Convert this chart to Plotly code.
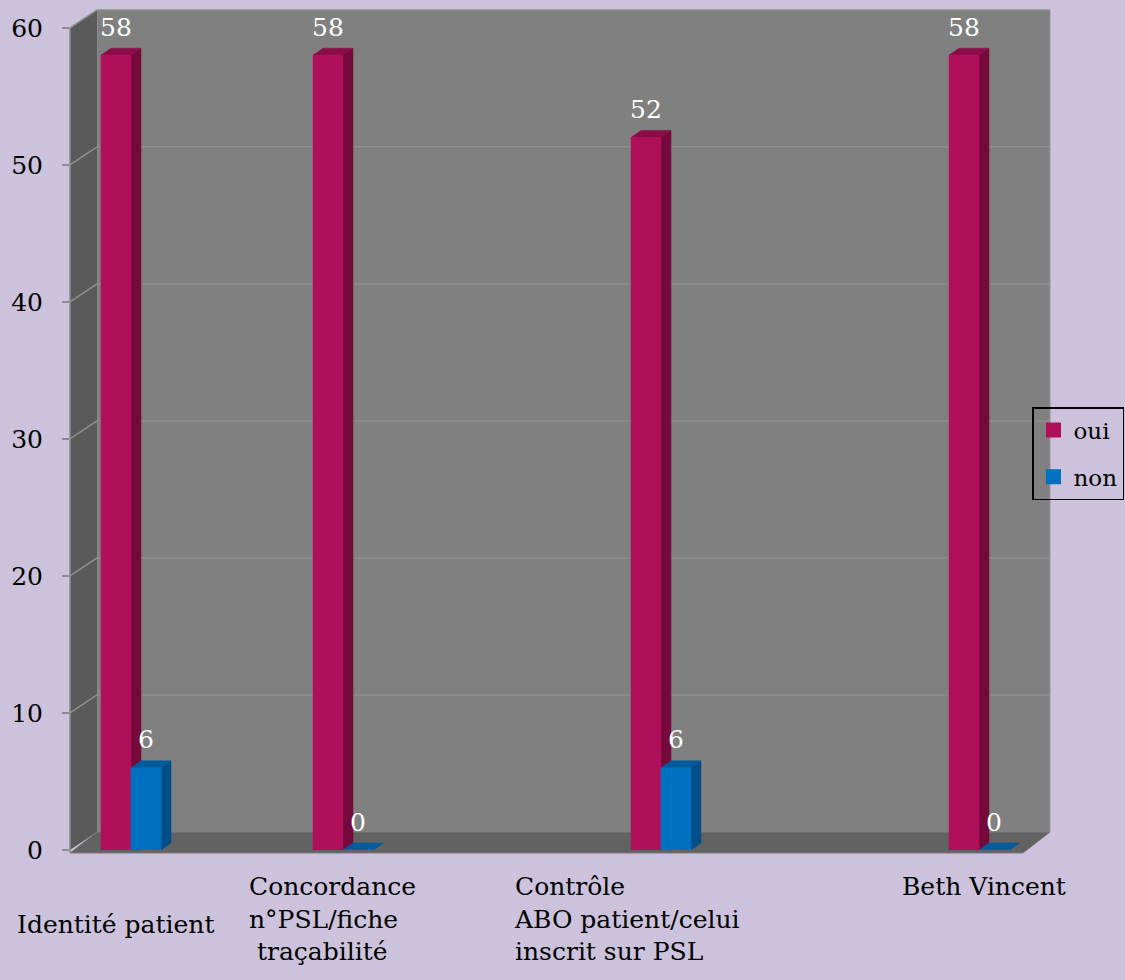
import plotly.graph_objects as go

# ---------------- data ----------------
categories = ["Identité patient",
              "Concordance\nn°PSL/fiche\n traçabilité",
              "Contrôle\nABO patient/celui\ninscrit sur PSL",
              "Beth Vincent"]
category_slot = [0, 2, 5, 8]          # position of each category on the 9-slot category axis
series_names = ["oui", "non"]
oui = [58, 58, 52, 58]
non = [6, 0, 6, 0]
y_ticks = [0, 10, 20, 30, 40, 50, 60]

# ---------------- styling / layout ----------------
W, H = 1125, 980
L, R, T, B = 70, 1050, 10, 850
SLOT_PX, SLOT0_PX = 106, 131
XMIN = (L - SLOT0_PX) / SLOT_PX
XMAX = (R - SLOT0_PX) / SLOT_PX
YMAX = 61.3
xs = (R - L) / (XMAX - XMIN)   # px per slot
ys = (B - T) / YMAX            # px per unit

BG = "#CCC2DB"
WALL_BACK = "#808080"
WALL_LEFT = "#5A5A5A"
FLOOR = "#626262"
GRID = "#8E8E8E"
FONT = "DejaVu Serif"
FS = 25

colors = {
    "oui": {"front": "#B0105A", "side": "#740A3B", "top": "#8C0C48"},
    "non": {"front": "#0070C0", "side": "#004E88", "top": "#005C9F"},
}

BAR_W = 30 / xs
DX, DY = 10 / xs, 7 / ys
WX, WY = 27, 18


def px(p):
    return (p - L) / (R - L)


def py(p):
    return (B - p) / (B - T)


def tick_px(v):
    return B - v * ys


fig = go.Figure()

# 3D bars drawn as polygons (side, top, front) in data coordinates
for si, (name, vals) in enumerate(zip(series_names, [oui, non])):
    faces = {"side": ([], []), "top": ([], []), "front": ([], [])}
    for s, v in zip(category_slot, vals):
        x0 = s - BAR_W if si == 0 else s
        x1 = x0 + BAR_W
        fx, fy = faces["side"]
        fx += [x1, x1 + DX, x1 + DX, x1, x1, None]
        fy += [0, DY, v + DY, v, 0, None]
        fx, fy = faces["top"]
        fx += [x0, x1, x1 + DX, x0 + DX, x0, None]
        fy += [v, v, v + DY, v + DY, v, None]
        fx, fy = faces["front"]
        fx += [x0, x1, x1, x0, x0, None]
        fy += [0, 0, v, v, 0, None]
    for face in ["side", "top", "front"]:
        fx, fy = faces[face]
        c = colors[name][face]
        fig.add_trace(go.Scatter(x=fx, y=fy, mode="lines", fill="toself",
                                 fillcolor=c, line=dict(color=c, width=0.5),
                                 hoverinfo="skip", showlegend=False))
    # legend entry
    fig.add_trace(go.Scatter(x=[None], y=[None], mode="markers", name=name,
                             legendgroup=name,
                             marker=dict(symbol="square", size=15,
                                         color=colors[name]["front"])))
    # data labels
    for s, v in zip(category_slot, vals):
        x0 = s - BAR_W if si == 0 else s
        fig.add_annotation(x=x0 + BAR_W / 2, y=v, xref="x", yref="y",
                           text=str(v), showarrow=False, yanchor="middle",
                           yshift=28, font=dict(family=FONT, size=FS, color="white"))

# category labels (free text boxes)
label_dx = [-116, -96, -149, -79]
label_top = [908, 870, 870, 870]
for s, lab, dx, top in zip(category_slot, categories, label_dx, label_top):
    fig.add_annotation(x=s, y=0, xref="x", yref="paper", xanchor="left",
                       yanchor="top", xshift=dx, yshift=-(top - B),
                       text=lab.replace("\n", "<br>"), align="left",
                       showarrow=False, font=dict(family=FONT, size=FS, color="black"))

# walls, floor, grid
shapes = []
shapes.append(dict(type="rect", xref="paper", yref="paper",
                   x0=px(L + WX), x1=px(R), y0=py(B - WY), y1=py(tick_px(60) - WY),
                   fillcolor=WALL_BACK, line=dict(color="#959595", width=1), layer="below"))
shapes.append(dict(type="path", xref="paper", yref="paper",
                   path=f"M{px(L)},{py(B)} L{px(L)},{py(tick_px(60))} "
                        f"L{px(L + WX)},{py(tick_px(60) - WY)} L{px(L + WX)},{py(B - WY)} Z",
                   fillcolor=WALL_LEFT, line=dict(width=0), layer="below"))
for v in y_ticks[1:]:
    yv = tick_px(v)
    if v != y_ticks[-1]:
        shapes.append(dict(type="line", xref="paper", yref="paper",
                           x0=px(L + WX), x1=px(R), y0=py(yv - WY), y1=py(yv - WY),
                           line=dict(color=GRID, width=1.5), layer="below"))
    shapes.append(dict(type="line", xref="paper", yref="paper",
                       x0=px(L), x1=px(L + WX), y0=py(yv), y1=py(yv - WY),
                       line=dict(color=GRID, width=1.5), layer="below"))
shapes.append(dict(type="path", xref="paper", yref="paper",
                   path=f"M{px(L)},{py(B + 3)} L{px(L + WX)},{py(B - WY)} "
                        f"L{px(R)},{py(B - WY)} L{px(R - WX)},{py(B + 3)} Z",
                   fillcolor=FLOOR, line=dict(color="#7A7A7A", width=1), layer="below"))
shapes.append(dict(type="line", xref="paper", yref="paper",
                   x0=0, x1=0, y0=py(B + 3), y1=py(tick_px(60)),
                   line=dict(color="#8C8C8C", width=1.5), layer="below"))
fig.update_layout(shapes=shapes)

fig.update_layout(
    width=W, height=H,
    margin=dict(l=L, r=W - R, t=T, b=H - B, autoexpand=False),
    paper_bgcolor=BG, plot_bgcolor=BG,
    font=dict(family=FONT, size=FS, color="black"),
    xaxis=dict(range=[XMIN, XMAX], visible=False, fixedrange=True),
    yaxis=dict(range=[0, YMAX], tickvals=y_ticks, ticks="outside", ticklen=7,
               tickcolor="#8C8C8C", tickwidth=1.5, showgrid=False, zeroline=False,
               showline=False, ticklabelstandoff=14,
               tickfont=dict(family=FONT, size=FS, color="black")),
    showlegend=True,
    legend=dict(x=px(1032), xanchor="left", y=py(407), yanchor="top",
                bgcolor="rgba(0,0,0,0)", bordercolor="black", borderwidth=1.5,
                traceorder="grouped", tracegroupgap=14, itemwidth=30,
                font=dict(family=FONT, size=23, color="black")),
)

fig.write_html("out.html")
